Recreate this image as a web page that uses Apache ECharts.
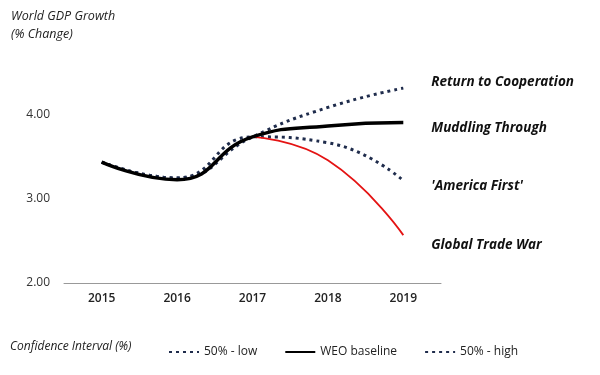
<!DOCTYPE html>
<html lang="en">
<head>
    <meta charset="utf-8">
    <title>World GDP Growth</title>
    <script src="https://cdn.jsdelivr.net/npm/echarts@6/dist/echarts.min.js"></script>
    <style>
        html, body { margin: 0; padding: 0; background: #fff; }
        #chart { width: 600px; height: 375px; }
    </style>
</head>
<body>
<div id="chart"></div>
<script>
    // years on the x axis
    var years = ['2015', '2016', '2017', '2018', '2019'];
    // scenario values (% change)
    var baseline = [3.44, 3.23, 3.74, 3.87, 3.91];
    var high = [3.44, 3.25, 3.74, 4.09, 4.32];
    var low = [3.44, 3.25, 3.74, 3.67, 3.22];
    var tradeWar = [null, null, 3.74, 3.46, 2.57];

    var font = '"Open Sans", sans-serif';
    var navy = '#1f2c4c';

    var chart = echarts.init(document.getElementById('chart'));

    function endLbl(text, dy) {
        return {
            show: true,
            formatter: text,
            distance: 28,
            offset: [0, dy],
            fontFamily: font,
            fontSize: 13.5,
            fontWeight: 'bold',
            fontStyle: 'italic',
            color: '#111'
        };
    }

    chart.setOption({
        animation: false,
        title: {
            text: 'World GDP Growth\n(% Change)',
            left: 6,
            top: 2,
            textStyle: {
                fontFamily: font,
                fontSize: 12.5,
                fontWeight: 'normal',
                fontStyle: 'italic',
                color: '#222',
                lineHeight: 18
            }
        },
        graphic: [{
            type: 'text',
            left: 10,
            top: 341,
            style: {
                text: 'Confidence Interval (%)',
                font: 'italic 12px "Open Sans", sans-serif',
                fill: '#222'
            }
        }],
        legend: {
            data: ['50% - low', 'WEO baseline', '50% - high'],
            left: 163,
            top: 341,
            itemWidth: 30,
            itemHeight: 12,
            itemGap: 27,
            itemStyle: { opacity: 0 },
            textStyle: { fontFamily: font, fontSize: 12, color: '#222' }
        },
        grid: { left: 64, right: 159, top: 73, bottom: 92 },
        xAxis: {
            type: 'category',
            data: years,
            boundaryGap: true,
            axisLine: { lineStyle: { color: '#999', width: 1 } },
            axisTick: { show: false },
            axisLabel: { fontFamily: font, fontSize: 12, fontWeight: 600, color: '#222', margin: 10 }
        },
        yAxis: {
            type: 'value',
            min: 2,
            max: 4.5,
            interval: 1,
            splitLine: { show: false },
            axisLabel: {
                fontFamily: font,
                fontSize: 12,
                color: '#333',
                margin: 14,
                formatter: function (v) { return v % 1 === 0 ? v.toFixed(2) : ''; }
            }
        },
        series: [
            {
                name: '50% - high',
                type: 'line',
                data: high,
                smooth: true,
                symbol: 'none',
                lineStyle: { color: navy, width: 3, type: [3, 4] },
                itemStyle: { color: navy },
                endLabel: endLbl('Return to Cooperation', -6)
            },
            {
                name: '50% - low',
                type: 'line',
                data: low,
                smooth: true,
                symbol: 'none',
                lineStyle: { color: navy, width: 3, type: [3, 4] },
                itemStyle: { color: navy },
                endLabel: endLbl("'America First'", 6)
            },
            {
                name: 'Global Trade War',
                type: 'line',
                data: tradeWar,
                smooth: true,
                symbol: 'none',
                lineStyle: { color: '#e41313', width: 1.8 },
                itemStyle: { color: '#e41313' },
                endLabel: endLbl('Global Trade War', 10)
            },
            {
                name: 'WEO baseline',
                type: 'line',
                data: baseline,
                smooth: true,
                symbol: 'none',
                lineStyle: { color: '#000', width: 3.5 },
                itemStyle: { color: '#000' },
                endLabel: endLbl('Muddling Through', 6)
            }
        ]
    });
</script>
</body>
</html>
